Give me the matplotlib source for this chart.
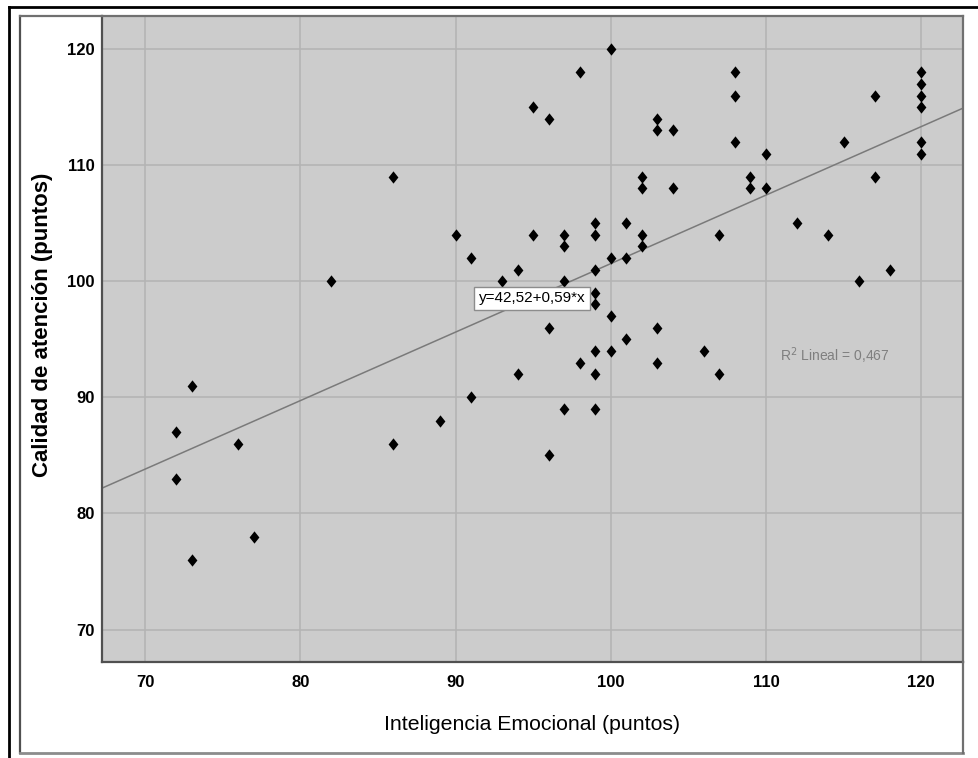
import numpy as np
import matplotlib
matplotlib.use('Agg')
import matplotlib.pyplot as plt
from matplotlib.path import Path
from matplotlib.lines import Line2D

# --- DATOS ---
inteligencia = [72, 72, 73, 73, 76, 77, 82, 86, 86, 89, 90, 91, 91, 93, 94, 94,
                95, 95, 96, 96, 96, 97, 97, 97, 97, 98, 98,
                99, 99, 99, 99, 99, 99, 99, 99, 100, 100, 100, 100,
                101, 101, 101, 102, 102, 102, 102, 103, 103, 103, 103, 104, 104,
                106, 107, 107, 108, 108, 108, 109, 109, 110, 110, 112, 114, 115,
                116, 117, 117, 118, 120, 120, 120, 120, 120, 120]
calidad = [87, 83, 91, 76, 86, 78, 100, 109, 86, 88, 104, 102, 90, 100, 101, 92,
           115, 104, 114, 96, 85, 104, 103, 100, 89, 118, 93,
           105, 104, 101, 99, 98, 94, 92, 89, 120, 102, 97, 94,
           105, 102, 95, 109, 108, 104, 103, 114, 113, 96, 93, 113, 108,
           94, 104, 92, 118, 116, 112, 109, 108, 111, 108, 105, 104, 112,
           100, 116, 109, 101, 118, 117, 116, 115, 112, 111]

intercepto = 42.52
pendiente = 0.59

x_ticks = [70, 80, 90, 100, 110, 120]
y_ticks = [70, 80, 90, 100, 110, 120]

# --- ESTILO ---
FUENTE = 'Liberation Sans'
FONDO = '#cccccc'
REJILLA = '#b4b4b4'

fig = plt.figure(figsize=(9.79, 7.58), dpi=100)
ax = fig.add_axes([0.1039, 0.1266, 0.9837 - 0.1039, 0.9789 - 0.1266])
ax.set_facecolor(FONDO)

# marcador rombo (un poco mas alto que ancho, como SPSS)
rombo = Path([(0, 1), (0.8, 0), (0, -1), (-0.8, 0), (0, 1)],
             [Path.MOVETO, Path.LINETO, Path.LINETO, Path.LINETO, Path.CLOSEPOLY])

ax.set_xlim(67.2, 122.7)
ax.set_ylim(67.2, 122.85)

xs = np.array(ax.get_xlim())
ax.plot(xs, intercepto + pendiente * xs, color='#7a7a7a', lw=1.1, zorder=2)

ax.scatter(inteligencia, calidad, marker=rombo, s=78, color='black',
           linewidths=0, zorder=3)

ax.set_xticks(x_ticks)
ax.set_yticks(y_ticks)
ax.grid(True, color=REJILLA, lw=1.2, zorder=1)
ax.set_axisbelow(True)
ax.tick_params(length=0)
ax.tick_params(axis='y', pad=5)
ax.tick_params(axis='x', pad=9)
for lab in ax.get_xticklabels() + ax.get_yticklabels():
    lab.set_family(FUENTE)
    lab.set_weight('bold')
    lab.set_fontsize(12)

for lado in ['left', 'bottom']:
    ax.spines[lado].set_color('#505050')
    ax.spines[lado].set_linewidth(1.6)
for lado in ['top', 'right']:
    ax.spines[lado].set_color('#707070')
    ax.spines[lado].set_linewidth(1.6)

ax.set_xlabel('Inteligencia Emocional (puntos)', family=FUENTE, fontsize=15.3,
              labelpad=18)
ax.set_ylabel('Calidad de atención (puntos)', family=FUENTE,
              fontweight='bold', fontsize=16)
ax.yaxis.set_label_coords(-0.0565, 0.5217)

# ecuacion y R2
ax.text(94.92, 98.55, 'y=42,52+0,59*x', family=FUENTE, fontsize=11,
        ha='center', va='center', zorder=4,
        bbox=dict(boxstyle='square,pad=0.3', fc='white', ec='#8c8c8c', lw=1))
ax.text(114.4, 93.6, 'R$^2$ Lineal = 0,467', family=FUENTE, fontsize=10,
        color='#7f7f7f', ha='center', va='center', zorder=4)

# marcos exteriores
tf = fig.transFigure
W, H = 979.0, 758.0
fig.add_artist(Line2D([20 / W, 20 / W], [1 - 16 / H, 1 - 753 / H], transform=tf,
                      color='#505050', lw=1.6))
fig.add_artist(Line2D([20 / W, 963 / W], [1 - 753 / H, 1 - 753 / H], transform=tf,
                      color='#8c8c8c', lw=2))
fig.add_artist(Line2D([963 / W, 963 / W], [1 - 662 / H, 1 - 753 / H], transform=tf,
                      color='#707070', lw=1.6))
fig.add_artist(Line2D([20 / W, 102 / W], [1 - 16 / H, 1 - 16 / H], transform=tf,
                      color='#707070', lw=1.6))
fig.add_artist(Line2D([9 / W, 9 / W], [1 - 7 / H, 0], transform=tf,
                      color='black', lw=2))
fig.add_artist(Line2D([9 / W, 1], [1 - 7 / H, 1 - 7 / H], transform=tf,
                      color='black', lw=2))

fig.savefig('out.png', dpi=100)
